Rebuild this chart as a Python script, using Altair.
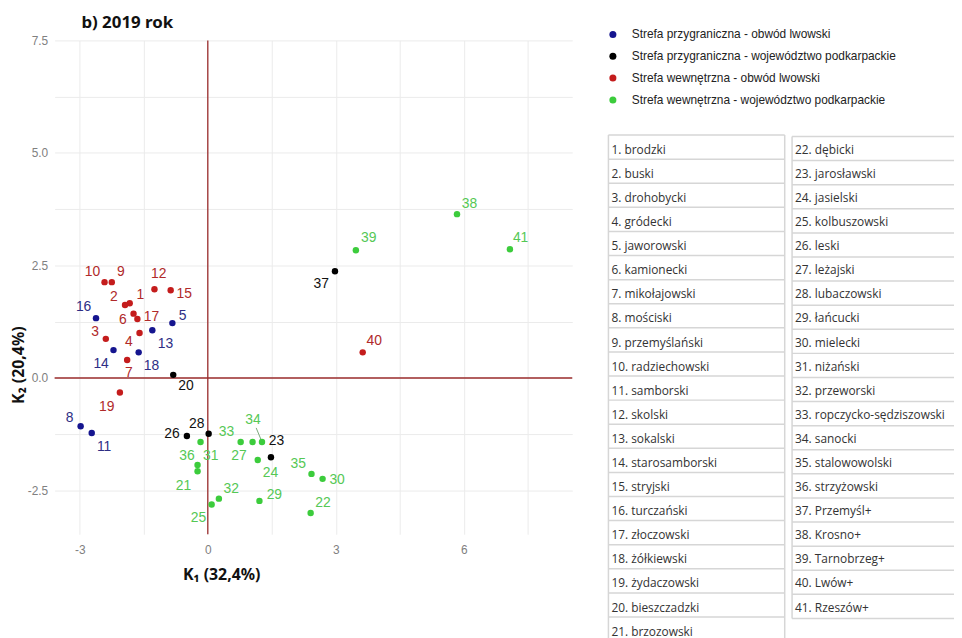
import altair as alt
import pandas as pd

# ---------------- data ----------------
ids = list(range(1, 42))
names = ["brodzki", "buski", "drohobycki", "gródecki", "jaworowski", "kamionecki",
         "mikołajowski", "mościski", "przemyślański", "radziechowski", "samborski",
         "skolski", "sokalski", "starosamborski", "stryjski", "turczański", "złoczowski",
         "żółkiewski", "żydaczowski", "bieszczadzki", "brzozowski", "dębicki",
         "jarosławski", "jasielski", "kolbuszowski", "leski", "leżajski", "lubaczowski",
         "łańcucki", "mielecki", "niżański", "przeworski", "ropczycko-sędziszowski",
         "sanocki", "stalowowolski", "strzyżowski", "Przemyśl+", "Krosno+",
         "Tarnobrzeg+", "Lwów+", "Rzeszów+"]
group_names = ["Strefa przygraniczna - obwód lwowski",
               "Strefa przygraniczna - województwo podkarpackie",
               "Strefa wewnętrzna - obwód lwowski",
               "Strefa wewnętrzna - województwo podkarpackie"]
group_idx = [2, 2, 2, 2, 0, 2, 2, 0, 2, 2, 0, 2, 0, 0, 2, 0, 2, 0, 2, 1,
             3, 3, 1, 3, 3, 1, 3, 1, 3, 3, 3, 3, 3, 3, 3, 3, 1, 3, 3, 2, 3]
k1 = [-1.83, -1.94, -2.39, -1.60, -0.83, -1.74, -1.89, -2.98, -2.25, -2.42,
      -2.72, -1.25, -1.30, -2.21, -0.87, -2.62, -1.65, -1.62, -2.06, -0.81,
      -0.24, 2.41, 1.48, 1.17, 0.09, -0.49, 1.05, 0.02, 1.21, 2.69,
      -0.17, 0.26, 0.77, 1.27, 2.43, -0.24, 2.98, 5.84, 3.47, 3.63, 7.08]
k2 = [1.66, 1.62, 0.87, 1.00, 1.22, 1.43, 0.40, -1.07, 2.13, 2.13,
      -1.22, 1.97, 1.06, 0.62, 1.95, 1.33, 1.31, 0.57, -0.32, 0.07,
      -2.07, -3.00, -1.76, -1.82, -2.81, -1.29, -1.42, -1.24, -2.73, -2.24,
      -1.42, -2.68, -1.42, -1.42, -2.13, -1.93, 2.37, 3.64, 2.84, 0.57, 2.86]
# label positions (repelled), in data units
lab_k1 = [-1.58, -2.20, -2.64, -1.85, -0.59, -1.99, -1.85, -3.24, -2.04, -2.70,
          -2.43, -1.15, -0.99, -2.50, -0.55, -2.91, -1.32, -1.32, -2.37, -0.51,
          -0.57, 2.70, 1.61, 1.47, -0.22, -0.84, 0.73, -0.26, 1.56, 3.03,
          0.07, 0.55, 0.44, 1.06, 2.12, -0.49, 2.66, 6.13, 3.77, 3.90, 7.33]
lab_k2 = [1.84, 1.79, 1.02, 0.80, 1.38, 1.29, 0.10, -0.89, 2.35, 2.35,
          -1.53, 2.32, 0.76, 0.30, 1.87, 1.57, 1.35, 0.26, -0.64, -0.18,
          -2.41, -2.78, -1.40, -2.12, -3.12, -1.24, -1.74, -1.02, -2.61, -2.26,
          -1.74, -2.46, -1.19, -0.94, -1.90, -1.73, 2.08, 3.87, 3.10, 0.83, 3.10]
segment_ids = [34]
title_text = "b) 2019 rok"
x_title = "K₁ (32,4%)"
y_title = "K₂ (20,4%)"

# ---------------- styles ----------------
point_colors = ["#15158f", "#000000", "#c41c1c", "#3ccc3c"]
text_colors = ["#2e2e85", "#111111", "#b02a2a", "#55c855"]
axis_red = "#9b2d2d"
W, H = 522, 498

df = pd.DataFrame({
    "id": ids,
    "lab": [str(i) for i in ids],
    "name": names,
    "grp": [group_names[g] for g in group_idx],
    "tcol": [text_colors[g] for g in group_idx],
    "k1": k1, "k2": k2, "lx": lab_k1, "ly": lab_k2,
})
seg = df[df["id"].isin(segment_ids)].copy()
seg["sx"] = seg["lx"] + 0.35 * (seg["k1"] - seg["lx"])
seg["sy"] = seg["ly"] + 0.35 * (seg["k2"] - seg["ly"])

xs = alt.Scale(domain=[-3.59, 8.54], nice=False, zero=False)
ys = alt.Scale(domain=[-3.47, 7.5], nice=False, zero=False)

x_axis = alt.Axis(
    values=[-3, -1.5, 0, 1.5, 3, 4.5, 6, 7.5],
    labelExpr="datum.value % 3 == 0 ? (datum.value < 0 ? '-' : '') + format(abs(datum.value), 'd') : ''",
    grid=True, gridColor="#ebebeb", gridWidth=1, domain=False, ticks=False,
    labelColor="#808080", labelFontSize=12, labelFont="Liberation Sans", labelPadding=10,
    title=x_title, titleFont="Noto Sans", titleFontSize=16, titleFontWeight="bold",
    titleColor="#111111", titleX=168, titleY=41, titleAlign="center",
    titleBaseline="middle", titleAnchor="start",
)
y_axis = alt.Axis(
    values=[-2.5, -1.25, 0, 1.25, 2.5, 3.75, 5, 6.25, 7.5],
    labelExpr="datum.value % 2.5 == 0 ? (datum.value < 0 ? '-' : '') + format(abs(datum.value), '.1f') : ''",
    grid=True, gridColor="#ebebeb", gridWidth=1, domain=False, ticks=False,
    labelColor="#808080", labelFontSize=12, labelFont="Liberation Sans", labelPadding=7,
    title=y_title, titleFont="Noto Sans", titleFontSize=16, titleFontWeight="bold",
    titleColor="#111111", titleX=-36, titleY=327, titleAlign="center",
    titleBaseline="middle", titleAngle=270, titleAnchor="start",
)

base = alt.Chart(df)
grid = base.mark_point(opacity=0).encode(
    x=alt.X("k1:Q", scale=xs, axis=x_axis),
    y=alt.Y("k2:Q", scale=ys, axis=y_axis),
)
hline = alt.Chart(pd.DataFrame({"v": [0]})).mark_rule(color=axis_red, strokeWidth=1.3).encode(
    y=alt.Y("v:Q", scale=ys))
vline = alt.Chart(pd.DataFrame({"v": [0]})).mark_rule(color=axis_red, strokeWidth=1.3).encode(
    x=alt.X("v:Q", scale=xs))
points = base.mark_circle(size=42, opacity=1).encode(
    x=alt.X("k1:Q", scale=xs),
    y=alt.Y("k2:Q", scale=ys),
    color=alt.Color("grp:N", scale=alt.Scale(domain=group_names, range=point_colors),
                    legend=alt.Legend(title=None, orient="none", legendX=557, legendY=-12,
                                      symbolType="circle", symbolSize=50, symbolStrokeWidth=0,
                                      labelFont="Liberation Sans", labelFontSize=12,
                                      labelColor="#222222", labelOffset=13, rowPadding=10,
                                      padding=0, labelLimit=400)),
)
segments = alt.Chart(seg).mark_rule(strokeWidth=1, color="#7aa87a").encode(
    x=alt.X("sx:Q", scale=xs), y=alt.Y("sy:Q", scale=ys),
    x2="k1:Q", y2="k2:Q")
labels = base.mark_text(fontSize=14, font="Liberation Sans", align="center", baseline="middle").encode(
    x=alt.X("lx:Q", scale=xs), y=alt.Y("ly:Q", scale=ys),
    text="lab:N", color=alt.Color("tcol:N", scale=None))

scatter = alt.layer(grid, hline, vline, segments, points, labels)

# ---------------- table ----------------
tab = pd.DataFrame({
    "txt": [f"{i}. {n}" for i, n in zip(ids, names)],
    "col": [0 if i <= 21 else 1 for i in ids],
    "row": [i - 1 if i <= 21 else i - 22 for i in ids],
})
n_left = sum(1 for i in ids if i <= 21)
n_right = len(ids) - n_left
tx = alt.Scale(domain=[0, 1], range=[558.5, 743.7], nice=False, zero=False)
ty = alt.Scale(domain=[0, 1], range=[110.3, 134.6], nice=False, zero=False)
col_w = 0.96
hl = pd.DataFrame(
    [{"x": 0, "x2": col_w, "y": k - 0.61} for k in range(n_left)]
    + [{"x": 1, "x2": 1.95, "y": k - 0.55} for k in range(n_right + 1)])
vl = pd.DataFrame([
    {"x": 0, "y": -0.61, "y2": n_left + 0.5},
    {"x": col_w, "y": -0.61, "y2": n_left + 0.5},
    {"x": 1, "y": -0.55, "y2": n_right - 0.55},
])
line_col = "#d6d6d6"
t_h = alt.Chart(hl).mark_rule(color=line_col, strokeWidth=1.5).encode(
    x=alt.X("x:Q", scale=tx, axis=None), x2="x2:Q", y=alt.Y("y:Q", scale=ty, axis=None))
t_v = alt.Chart(vl).mark_rule(color=line_col, strokeWidth=1.5).encode(
    x=alt.X("x:Q", scale=tx, axis=None), y=alt.Y("y:Q", scale=ty, axis=None), y2="y2:Q")
t_txt = alt.Chart(tab).mark_text(align="left", baseline="middle", dx=3, font="Open Sans",
                                 fontSize=12, color="#333333").encode(
    x=alt.X("col:Q", scale=tx, axis=None), y=alt.Y("row:Q", scale=ty, axis=None), text="txt:N")
table = alt.layer(t_h, t_v, t_txt)

chart = alt.layer(scatter, table).resolve_scale(x="independent", y="independent").properties(
    width=W, height=H,
    autosize=alt.AutoSizeParams(type="none"),
    padding={"left": 47, "top": 30, "right": 385, "bottom": 102},
    title=alt.Title(title_text, anchor="start", frame="group", dx=27, dy=12, offset=8,
                    font="Noto Sans", fontSize=17, fontWeight="bold", color="#111111"),
).configure_view(stroke=None)

chart.save("out.html", embed_options={"renderer": "svg", "actions": False})
